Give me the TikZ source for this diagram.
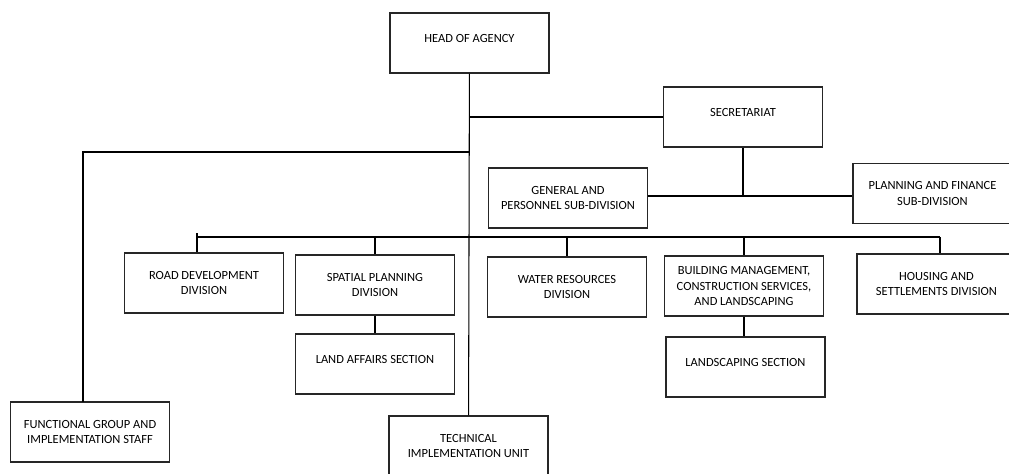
\documentclass[tikz,border=0pt]{standalone}
\usepackage{fontspec}
\setmainfont{Carlito}
\usetikzlibrary{positioning, shapes}
\tikzstyle{link} = [line width=0.6pt]

\begin{document}
\begin{tikzpicture}[x=0.02cm, y=-0.02cm]
                \tikzstyle{every node}=[font=\fontsize{7.1}{9}\selectfont, align=center]
                \tikzstyle{unit} = [draw=black!85, line width=0.8pt, minimum width=3.18cm, minimum height=1.2cm, inner sep=1pt]
                \tikzstyle{oneline} = [unit, text depth=2mm]

                \clip (0,0) rectangle (1009,474);

                % top of the chart
                \node[oneline](head) at (469.5,43) {HEAD OF AGENCY};
                \node[oneline](sec) at (743,117) {SECRETARIAT};
                \node[unit](gen) at (568,198) {GENERAL AND\\PERSONNEL SUB-DIVISION};
                \node[unit](plan) at (932.5,193.5) {PLANNING AND FINANCE\\SUB-DIVISION};

                % divisions
                \node[unit](road) at (204,283) {ROAD DEVELOPMENT\\DIVISION};
                \node[unit](spat) at (375,285) {SPATIAL PLANNING\\DIVISION};
                \node[unit](water) at (567,287) {WATER RESOURCES\\DIVISION};
                \node[unit](build) at (744,286) {BUILDING MANAGEMENT,\\CONSTRUCTION SERVICES,\\AND LANDSCAPING};
                \node[unit](house) at (936.5,284) {HOUSING AND\\SETTLEMENTS DIVISION};

                % sections
                \node[oneline](land) at (375,364) {LAND AFFAIRS SECTION};
                \node[oneline](lscape) at (745.5,367) {LANDSCAPING SECTION};

                \node[unit](func) at (90,432) {FUNCTIONAL GROUP AND\\IMPLEMENTATION STAFF};
                \node[unit](tech) at (468.5,446) {TECHNICAL\\IMPLEMENTATION UNIT};

                % joints
                \coordinate(fjoin) at (469,152);
                \coordinate(ftop) at (83,402);
                \coordinate(subjoin) at (743,196);
                \coordinate(busL) at (197,237);
                \coordinate(busR) at (940,237);
                \coordinate(tick) at (197,233);

                \draw[link] (head) -- (tech);
                \draw[link] (sec.west) -- (sec.west -| head.south);
                \draw[link] (fjoin) -| (ftop);

                \draw[link] (sec.south) -- (subjoin);
                \draw[link] (gen.east |- subjoin) -- (plan.west |- subjoin);

                \draw[link] (busL) -- (busR);
                \draw[link] (tick) -- (busL |- road.north);
                \draw[link] (spat.north |- busL) -- (spat.north);
                \draw[link] (water.north |- busL) -- (water.north);
                \draw[link] (build.north |- busL) -- (build.north);
                \draw[link] (busR) -- (busR |- house.north);

                \draw[link] (spat) -- (land);
                \draw[link] (build.south) -- (build.south |- lscape.north);

        \end{tikzpicture}
\end{document}
